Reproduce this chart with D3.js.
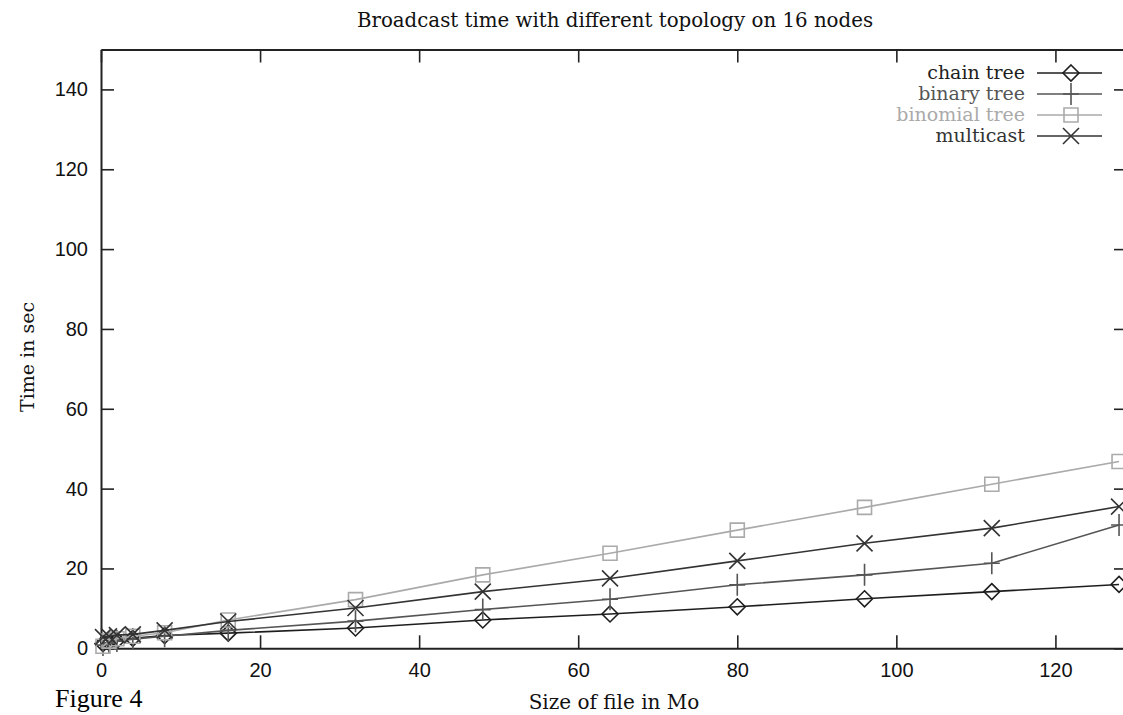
<!DOCTYPE html>
<html>
<head>
<meta charset="utf-8">
<script src="https://cdn.jsdelivr.net/npm/d3@7"></script>
<style>
  body { margin: 0; background: #fff; }
  svg { display: block; }
  .tick text { font-family: "Liberation Sans", sans-serif; font-size: 20px; fill: #111; }
</style>
</head>
<body>
<div id="chart"></div>
<script>
// Data
const sizes = [0.25, 1, 2, 4, 8, 16, 32, 48, 64, 80, 96, 112, 128];
const chainTree = [1.2, 1.5, 2.0, 2.5, 3.2, 3.8, 5.1, 7.1, 8.6, 10.4, 12.4, 14.2, 16.0];
const binaryTree = [0.8, 1.3, 1.8, 2.3, 3.0, 4.5, 6.8, 9.7, 12.3, 15.9, 18.4, 21.3, 30.9];
const binomialTree = [0.5, 1.8, 2.4, 3.0, 3.9, 7.1, 12.2, 18.4, 23.8, 29.6, 35.3, 41.1, 46.8];
const multicast = [2.8, 3.0, 3.3, 3.5, 4.5, 6.7, 10.1, 14.2, 17.5, 21.9, 26.3, 30.1, 35.5];

const seriesNames = ["chain tree", "binary tree", "binomial tree", "multicast"];
const xTicks = [0, 20, 40, 60, 80, 100, 120];
const yTicks = [0, 20, 40, 60, 80, 100, 120, 140];

const series = [
    { name: seriesNames[0], values: chainTree, color: "#1e1e1e", marker: "diamond" },
    { name: seriesNames[1], values: binaryTree, color: "#555", marker: "plus" },
    { name: seriesNames[2], values: binomialTree, color: "#aaa", marker: "square" },
    { name: seriesNames[3], values: multicast, color: "#333", marker: "cross" }
];

// Marker shapes, centred on 0,0
function markerPath(type) {
    switch (type) {
        case "diamond": return "M0,-8L8,0L0,8L-8,0Z";
        case "plus": return "M0,-11V11M-8,0H8";
        case "square": return "M-7,-7H7V7H-7Z";
        case "cross": return "M-8,-8L8,8M-8,8L8,-8";
    }
}

const width = 1123;
const height = 715;
const margin = { top: 49.5, left: 101, bottom: 648.3, right: 1127 };

const svg = d3.select("#chart")
    .append("svg")
    .attr("width", width)
    .attr("height", height);

// Scales
const x = d3.scaleLinear()
    .domain([0, 129])
    .range([margin.left, margin.right]);

const y = d3.scaleLinear()
    .domain([0, 150])
    .range([margin.bottom, margin.top]);

// Axes (ticks point inward, mirrored on top and right)
function styleAxis(g) {
    g.select(".domain").attr("stroke", "#222").attr("stroke-width", 2);
    g.selectAll(".tick line").attr("stroke", "#222").attr("stroke-width", 1.6);
}

svg.append("g")
    .attr("transform", `translate(0,${y(0)})`)
    .call(d3.axisBottom(x).tickValues(xTicks).tickSize(-13).tickSizeOuter(0).tickPadding(15))
    .call(styleAxis);

svg.append("g")
    .attr("transform", `translate(0,${y(150)})`)
    .call(d3.axisTop(x).tickValues(xTicks).tickSize(-13).tickSizeOuter(0).tickFormat(""))
    .call(styleAxis);

svg.append("g")
    .attr("transform", `translate(${x(0)},0)`)
    .call(d3.axisLeft(y).tickValues(yTicks).tickSize(-13).tickSizeOuter(0).tickPadding(13))
    .call(styleAxis);

svg.append("g")
    .attr("transform", `translate(${x(129)},0)`)
    .call(d3.axisRight(y).tickValues(yTicks).tickSize(-13).tickSizeOuter(0).tickFormat(""))
    .call(styleAxis);

// Lines and markers
const line = d3.line()
    .x((d, i) => x(sizes[i]))
    .y(d => y(d));

series.forEach(s => {
    svg.append("path")
        .datum(s.values)
        .attr("fill", "none")
        .attr("stroke", s.color)
        .attr("stroke-width", 1.6)
        .attr("d", line);

    svg.append("g")
        .selectAll("path")
        .data(s.values)
        .enter().append("path")
        .attr("transform", (d, i) => `translate(${x(sizes[i])},${y(d)})`)
        .attr("d", markerPath(s.marker))
        .attr("fill", "none")
        .attr("stroke", s.color)
        .attr("stroke-width", 1.6);
});

// Legend
const legend = svg.append("g").attr("transform", "translate(0,73)");
series.forEach((s, i) => {
    const row = legend.append("g").attr("transform", `translate(0,${i * 21})`);
    row.append("text")
        .attr("x", 1025)
        .attr("y", 6)
        .attr("text-anchor", "end")
        .attr("font-family", "DejaVu Serif, serif")
        .attr("font-size", 19)
        .attr("fill", s.color)
        .text(s.name);
    row.append("line")
        .attr("x1", 1037).attr("x2", 1102)
        .attr("stroke", s.color)
        .attr("stroke-width", 1.6);
    row.append("path")
        .attr("transform", "translate(1071,0)")
        .attr("d", markerPath(s.marker))
        .attr("fill", "none")
        .attr("stroke", s.color)
        .attr("stroke-width", 1.6);
});

// Titles
svg.append("text")
    .attr("x", 615)
    .attr("y", 27)
    .attr("text-anchor", "middle")
    .attr("font-family", "DejaVu Serif, serif")
    .attr("font-size", 19.8)
    .attr("fill", "#111")
    .text("Broadcast time with different topology on 16 nodes");

svg.append("text")
    .attr("transform", "translate(34,357) rotate(-90)")
    .attr("text-anchor", "middle")
    .attr("font-family", "DejaVu Serif, serif")
    .attr("font-size", 19)
    .attr("fill", "#111")
    .text("Time in sec");

svg.append("text")
    .attr("x", 614)
    .attr("y", 709)
    .attr("text-anchor", "middle")
    .attr("font-family", "DejaVu Serif, serif")
    .attr("font-size", 20)
    .attr("fill", "#111")
    .text("Size of file in Mo");

svg.append("text")
    .attr("x", 55)
    .attr("y", 707)
    .attr("font-family", "Liberation Serif, serif")
    .attr("font-size", 26)
    .attr("fill", "#000")
    .text("Figure 4");
</script>
</body>
</html>
